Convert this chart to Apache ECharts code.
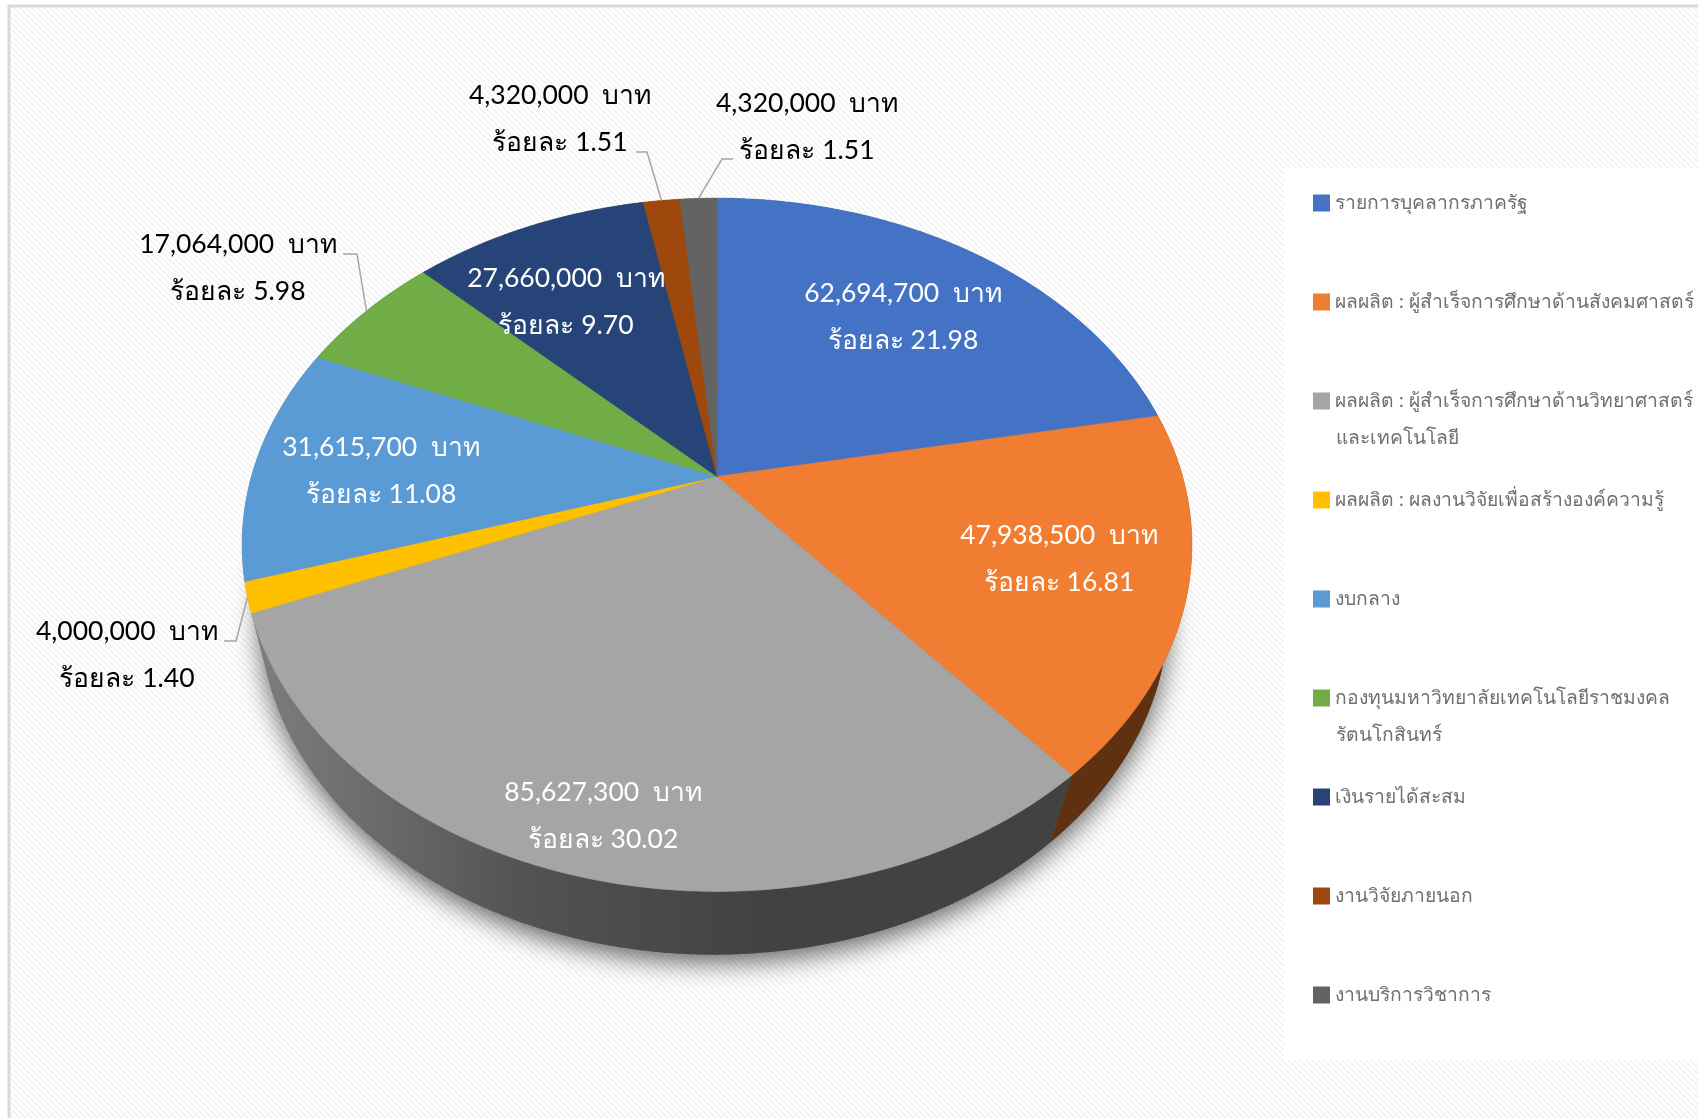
<!DOCTYPE html>
<html>
<head>
<meta charset="utf-8">
<style>
  html, body { margin: 0; background: #fff; }
  #chart { width: 1698px; height: 1118px; }
</style>
<script src="https://cdn.jsdelivr.net/npm/echarts@6/dist/echarts.min.js"></script>
</head>
<body>
<div id="chart"></div>
<script>
  const categories = [
    'รายการบุคลากรภาครัฐ',
    'ผลผลิต : ผู้สำเร็จการศึกษาด้านสังคมศาสตร์',
    'ผลผลิต : ผู้สำเร็จการศึกษาด้านวิทยาศาสตร์\nและเทคโนโลยี',
    'ผลผลิต : ผลงานวิจัยเพื่อสร้างองค์ความรู้',
    'งบกลาง',
    'กองทุนมหาวิทยาลัยเทคโนโลยีราชมงคล\nรัตนโกสินทร์',
    'เงินรายได้สะสม',
    'งานวิจัยภายนอก',
    'งานบริการวิชาการ'
  ]
  const values = [62694700, 47938500, 85627300, 4000000, 31615700, 17064000, 27660000, 4320000, 4320000]
  const percents = ['21.98', '16.81', '30.02', '1.40', '11.08', '5.98', '9.70', '1.51', '1.51']
  const colors = ['#4472C4', '#F07D31', '#A5A5A5', '#FFC000', '#5B9BD5', '#70AD47', '#264478', '#9E480E', '#636363']

  const FONT = 'Lato, "Noto Sans", sans-serif'
  const total = values.reduce((a, b) => a + b, 0)

  // perspective of the tilted disc: top face and bottom face
  const topFace = { x: 717, k: 465.6, a: 239.3, b: 476.5, c: -0.197 }
  const lowFace = { x: 714, k: 447, a: 232.8, b: 550, c: -0.18 }

  function project(face, ang) {
    const u = Math.sin(ang), v = -Math.cos(ang), w = 1 + face.c * v
    return [face.x + face.k * u / w, (face.a * v + face.b) / w]
  }
  function arc(face, a0, a1) {
    const n = Math.max(2, Math.ceil(Math.abs(a1 - a0) / 0.01))
    const pts = []
    for (let i = 0; i <= n; i++) pts.push(project(face, a0 + (a1 - a0) * i / n))
    return pts
  }
  function sliceAngles(i) {
    let before = 0
    for (let j = 0; j < i; j++) before += values[j]
    return [before / total * Math.PI * 2, (before + values[i]) / total * Math.PI * 2]
  }

  // label centres, white ones sit on the slice
  const labelAt = [[903, 317], [1059, 559], [603, 816], [127, 655], [381, 471], [238, 268], [566, 302], [560, 119], [807, 127]]
  const labelFill = ['#fff', '#fff', '#fff', '#000', '#fff', '#000', '#fff', '#000', '#000']
  // leader line: text end, elbow (slice end comes from the projection)
  const leaders = { 3: [[224, 641], [236, 641]], 5: [[343, 254], [357, 254]], 7: [[636, 152], [647, 152]], 8: [[733, 159], [722, 159]] }

  function wallFill(i) {
    if (i === 1) return '#5f3111'
    // everything left of the orange slice shares the grey wall, the rest is hidden behind the top
    return new echarts.graphic.LinearGradient(250, 0, 760, 0, [
      { offset: 0, color: '#7e7e7e' },
      { offset: 0.55, color: '#525252' },
      { offset: 1, color: '#424242' }
    ], true)
  }

  function renderSlice(i) {
    return function (params, api) {
      const val = api.value(0)
      const [a0, a1] = sliceAngles(i)
      const children = []
      if (i === 0) {
        // soft shadow under the whole pie
        children.push({
          type: 'polygon', silent: true, z2: 0,
          shape: { points: arc(lowFace, 0, Math.PI * 2) },
          style: { fill: '#666', shadowBlur: 26, shadowColor: 'rgba(0,0,0,0.6)', shadowOffsetY: 8 }
        })
      }
      const upper = arc(topFace, a0, a1)
      const lower = arc(lowFace, a0, a1).reverse()
      children.push({
        type: 'polygon', silent: true, z2: 1,
        shape: { points: upper.concat(lower) },
        style: { fill: wallFill(i) }
      })
      children.push({
        type: 'polygon', silent: true, z2: 5,
        shape: { points: [[topFace.x, topFace.b]].concat(upper) },
        style: { fill: colors[i], stroke: colors[i], lineWidth: 0.6 }
      })
      if (leaders[i]) {
        children.push({
          type: 'polyline', silent: true, z2: 6,
          shape: { points: leaders[i].concat([project(topFace, (a0 + a1) / 2)]) },
          style: { fill: 'none', stroke: '#a6a6a6', lineWidth: 1.5 }
        })
      }
      children.push({
        type: 'text', silent: true, z2: 10,
        x: labelAt[i][0], y: labelAt[i][1],
        style: {
          text: val.toLocaleString('en-US') + '  บาท\nร้อยละ ' + percents[i],
          fill: labelFill[i], font: '26.5px ' + FONT, lineHeight: 47,
          align: 'center', verticalAlign: 'middle'
        }
      })
      return { type: 'group', children: children }
    }
  }

  // faint diagonal hatch of the plot background
  function hatch() {
    const c = document.createElement('canvas')
    c.width = c.height = 6
    const g = c.getContext('2d')
    g.fillStyle = '#fff'
    g.fillRect(0, 0, 6, 6)
    g.strokeStyle = '#f2f2f2'
    g.lineWidth = 1.6
    g.beginPath()
    for (let o = -6; o <= 6; o += 6) { g.moveTo(o, 0); g.lineTo(o + 6, 6) }
    g.stroke()
    return c
  }

  const ec = echarts.init(document.getElementById('chart'))
  ec.setOption({
    animation: false,
    backgroundColor: '#fff',
    color: colors,
    legend: {
      orient: 'vertical',
      left: 1313,
      top: 191,
      padding: 0,
      icon: 'rect',
      itemWidth: 17,
      itemHeight: 17,
      itemGap: 75,
      selectedMode: false,
      data: categories,
      formatter: name => name.split('\n')[0],
      textStyle: { color: '#707070', fontFamily: FONT, fontSize: 19.3, lineHeight: 24 }
    },
    graphic: [
      { type: 'rect', z: -2, silent: true, shape: { x: 9, y: 6, width: 1800, height: 1200 },
        style: { fill: { image: hatch(), repeat: 'repeat' }, stroke: '#d9d9d9', lineWidth: 3 } },
      { type: 'rect', z: -1, silent: true, shape: { x: 1284, y: 168, width: 500, height: 892 },
        style: { fill: 'rgba(255,255,255,0.85)' } },
      { type: 'text', silent: true, x: 1336, y: 438,
        style: { text: categories[2].split('\n')[1], fill: '#707070', font: '19.3px ' + FONT, verticalAlign: 'middle' } },
      { type: 'text', silent: true, x: 1336, y: 735,
        style: { text: categories[5].split('\n')[1], fill: '#707070', font: '19.3px ' + FONT, verticalAlign: 'middle' } }
    ],
    series: categories.map((name, i) => ({
      type: 'custom',
      name: name,
      coordinateSystem: 'none',
      silent: true,
      data: [values[i]],
      renderItem: renderSlice(i)
    }))
  })
</script>
</body>
</html>
